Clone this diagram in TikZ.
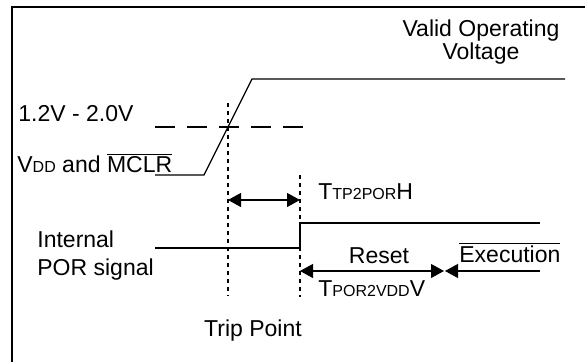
\documentclass[tikz,border=0pt]{standalone}
\usepackage{fontspec}
\setmainfont{Liberation Sans}
\usetikzlibrary{arrows.meta}
\newcommand{\smalltext}[1]{{\fontsize{8}{8}\selectfont #1}}

\begin{document}
\begin{tikzpicture}[x=0.5pt, y=-0.5pt,
    sig/.style={line width=0.6pt},
    guide/.style={line width=0.7pt, dash pattern=on 2pt off 2pt},
    level/.style={line width=0.6pt, dash pattern=on 10pt off 6pt},
    dimone/.style={line width=0.6pt, -{Triangle[length=6.5pt,width=7pt]}},
    dimboth/.style={line width=0.6pt, {Triangle[length=6.5pt,width=7pt]}-{Triangle[length=6.5pt,width=7pt]}},
    lbl/.style={inner sep=0pt, font=\fontsize{11.5}{10}\selectfont}]
    \useasboundingbox (0,0) rectangle (585,362);

    % Frame
    \draw[line width=1.2pt] (12,362) -- (12,7) -- (585,7);

    % VDD and MCLR ramp
    \coordinate (vlow) at (155,175);
    \coordinate (vrise) at (204,175);
    \coordinate (vtop) at (252,79);
    \coordinate (vend) at (565,79);
    \draw[sig] (vlow) -- (vrise) -- (vtop) -- (vend);

    % Threshold level
    \coordinate (lvla) at (155,127);
    \coordinate (lvlb) at (303,127);
    \draw[level] (lvla) -- (lvlb);

    % Trip point and POR guides
    \coordinate (tripa) at (228,103);
    \coordinate (tripb) at (228,296);
    \coordinate (pora) at (300,175);
    \coordinate (porb) at (300,297);
    \draw[guide] (tripa) -- (tripb);
    \draw[guide] (pora) -- (porb);

    % Internal POR signal
    \coordinate (plow) at (155,248);
    \coordinate (pstep) at (300,248);
    \coordinate (phigh) at (300,223);
    \coordinate (pend) at (540,223);
    \draw[sig] (plow) -- (pstep) -- (phigh) -- (pend);

    % Timing arrows
    \coordinate (tpa) at (228,200);
    \coordinate (tpb) at (300,200);
    \draw[dimboth] (tpa) -- (tpb);
    \coordinate (rsa) at (300,271);
    \coordinate (rsb) at (444,271);
    \draw[dimboth] (rsa) -- (rsb);
    \coordinate (exa) at (540,271);
    \coordinate (exb) at (445,271);
    \draw[dimone] (exa) -- (exb);

    % Labels
    \node[lbl, align=center, anchor=base] (valid) at (481,60) {Valid Operating\\Voltage};
    \node[lbl, anchor=base west] (thr) at (18,122) {1.2V - 2.0V};
    \node[lbl, anchor=base west] (vdd) at (17,173) {V\smalltext{DD} and $\overline{\mbox{MCLR}}$};
    \node[lbl, align=left, anchor=base west, font=\fontsize{11.5}{14}\selectfont] (por) at (37,276) {Internal\\POR signal};
    \node[lbl, anchor=base west] (ttp) at (318,200) {T\smalltext{TP2POR}H};
    \node[lbl, anchor=base] (reset) at (379,264) {Reset};
    \node[lbl, anchor=base west] (tpor) at (318,297) {T\smalltext{POR2VDD}V};
    \node[lbl, anchor=base west] (exec) at (459,263) {$\overline{\mbox{Execution}}$};
    \node[lbl, anchor=base] (trip) at (253,337) {Trip Point};
\end{tikzpicture}
\end{document}
